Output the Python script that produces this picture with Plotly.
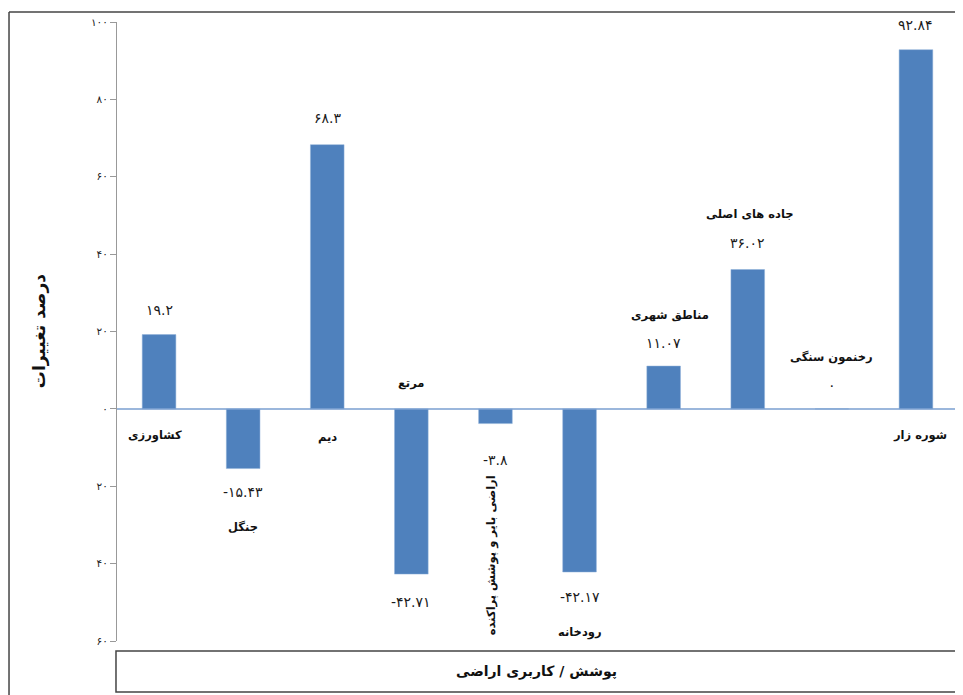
import plotly.graph_objects as go

categories = ["کشاورزی", "جنگل", "دیم", "مرتع", "اراضی بایر و پوشش پراکنده",
              "رودخانه", "مناطق شهری", "جاده های اصلی", "رخنمون سنگی", "شوره زار"]
values = [19.2, -15.43, 68.3, -42.71, -3.8, -42.17, 11.07, 36.02, 0, 92.84]
value_texts = ["19.2", "-15.43", "68.3", "-42.71", "-3.8", "-42.17", "11.07", "36.02", "0", "92.84"]
tick_values = [100, 80, 60, 40, 20, 0, -20, -40, -60]
tick_texts = ["100", "80", "60", "40", "20", "0", "20", "40", "60"]

# label placement (data units) and orientation
value_label_y = [25.6, -21.4, 75.2, -50.0, -13.2, -48.6, 17.0, 42.9, 6.2, 99.3]
cat_label_y = [-7.0, -30.5, -7.2, 6.7, -37.7, -57.9, 24.3, 50.4, 13.4, -7.0]
cat_label_xshift = [-4, 0, 0, 0, -4, 0, 6, 2, 0, 4]
cat_label_angle = [0, 0, 0, 0, -90, 0, 0, 0, 0, 0]

Y_MIN, Y_MAX = -60, 100

PERSIAN = str.maketrans("0123456789", "۰۱۲۳۴۵۶۷۸۹")


def fa(s):
    return s.translate(PERSIAN)


def to_paper(v):
    return (v - Y_MIN) / (Y_MAX - Y_MIN)


FONT = "DejaVu Sans"
BAR = "#4F81BD"

fig = go.Figure()
fig.add_trace(go.Bar(
    x=list(range(len(categories))), y=values,
    marker=dict(color=BAR, line=dict(color="#8fb0d8", width=0.5)),
    width=0.4, hoverinfo="skip",
))

anns = []
for i, (cat, vt) in enumerate(zip(categories, value_texts)):
    anns.append(dict(x=i, y=to_paper(value_label_y[i]), xref="x", yref="paper", text=fa(vt),
                     xanchor="center", yanchor="middle",
                     showarrow=False, font=dict(family=FONT, size=14, color="#1a1a1a")))
    anns.append(dict(x=i, y=to_paper(cat_label_y[i]), xref="x", yref="paper", text="<b>" + cat + "</b>",
                     xanchor="center", yanchor="middle",
                     showarrow=False, textangle=cat_label_angle[i], xshift=cat_label_xshift[i],
                     font=dict(family=FONT, size=11.5, color="#111111")))

# axis titles
anns.append(dict(x=-0.092, y=0.5, xref="paper", yref="paper", text="<b>درصد تغییرات</b>",
                 xanchor="center", yanchor="middle",
                 textangle=-90, showarrow=False, font=dict(family=FONT, size=17, color="#111")))
anns.append(dict(x=0.4994, y=-0.0485, xref="paper", yref="paper", text="<b>پوشش / کاربری اراضی</b>",
                 xanchor="center", yanchor="middle",
                 showarrow=False, font=dict(family=FONT, size=14, color="#111")))

shapes = [
    # zero line
    dict(type="line", xref="paper", yref="y", x0=0, x1=1.01, y0=0, y1=0,
         line=dict(color="#7a9fd0", width=1.5), layer="above"),
    # x-title box
    dict(type="rect", xref="paper", yref="paper", x0=-0.0012, x1=0.9988, y0=-0.0824, y1=-0.01616,
         line=dict(color="#444", width=1.5)),
    # outer border (top and left)
    dict(type="line", xref="paper", yref="paper", x0=-0.1284, x1=1.02, y0=1.0162, y1=1.0162,
         line=dict(color="#444", width=1.5)),
    dict(type="line", xref="paper", yref="paper", x0=-0.1284, x1=-0.1284, y0=1.0162, y1=-0.1,
         line=dict(color="#444", width=1.5)),
]

fig.update_layout(
    width=955, height=687,
    margin=dict(l=109, r=5, t=14, b=54),
    paper_bgcolor="white", plot_bgcolor="white",
    showlegend=False,
    annotations=anns, shapes=shapes,
    xaxis=dict(range=[-0.5, 9.5], showticklabels=False, showgrid=False, zeroline=False,
               showline=False, ticks=""),
    yaxis=dict(range=[Y_MIN, Y_MAX], tickvals=tick_values, ticktext=[fa(t) for t in tick_texts],
               showgrid=False, zeroline=False, showline=True, linecolor="#999", linewidth=1,
               ticks="outside", ticklen=6, tickcolor="#999",
               tickfont=dict(family=FONT, size=10.5, color="#222")),
)

fig.write_html("out.html")
